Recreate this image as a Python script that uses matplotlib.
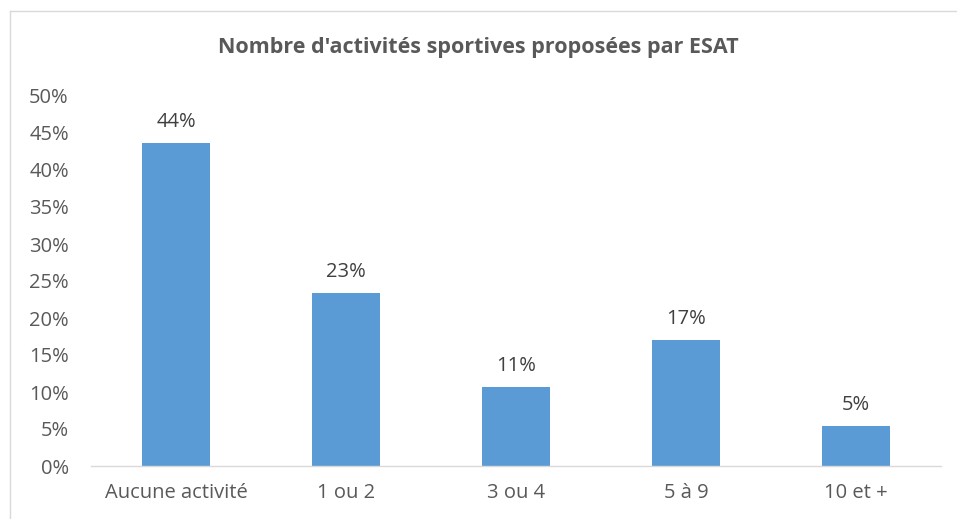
import numpy as np
import matplotlib
matplotlib.use("Agg")
import matplotlib.pyplot as plt
from matplotlib.lines import Line2D

categories = ["Aucune activité", "1 ou 2", "3 ou 4", "5 à 9", "10 et +"]
values = [43.6, 23.4, 10.7, 17.0, 5.4]
labels = ["44%", "23%", "11%", "17%", "5%"]
yticks = [0, 5, 10, 15, 20, 25, 30, 35, 40, 45, 50]

plt.rcParams["font.family"] = ["Open Sans", "DejaVu Sans"]
gray = "#595959"

W, H = 957, 519
fig = plt.figure(figsize=(W / 100, H / 100), dpi=100)
ax = fig.add_axes([91 / W, (H - 466) / H, 850 / W, 370 / H])

x = np.arange(len(categories))
bars = ax.bar(x, values, width=0.4, color="#5B9BD5", zorder=2)
for b, lab in zip(bars, labels):
    ax.annotate(lab, (b.get_x() + b.get_width() / 2, b.get_height()),
                xytext=(0, 8), textcoords="offset points",
                ha="center", va="bottom", fontsize=14.5, color="#404040")

ax.set_xlim(-0.5, len(categories) - 0.5)
ax.set_ylim(0, 50)
ax.set_yticks(yticks)
ax.set_yticklabels([f"{t}%" for t in yticks])
ax.set_xticks(x)
ax.set_xticklabels(categories)
ax.tick_params(axis="both", length=0, labelsize=14.5, colors=gray)
ax.tick_params(axis="y", pad=16)
ax.tick_params(axis="x", pad=12)
for s in ["top", "right", "left"]:
    ax.spines[s].set_visible(False)
ax.spines["bottom"].set_color("#D9D9D9")
ax.spines["bottom"].set_linewidth(1.0)

fig.text(0.5, (H - 48) / H, "Nombre d'activités sportives proposées par ESAT",
         ha="center", va="center", fontsize=15.5, fontweight="bold", color=gray)

# chart border (top and left edges visible)
fig.add_artist(Line2D([10 / W, 1], [1 - 11 / H] * 2, color="#D9D9D9", lw=1))
fig.add_artist(Line2D([10 / W] * 2, [0, 1 - 11 / H], color="#D9D9D9", lw=1))

fig.savefig("out.png", dpi=100)
